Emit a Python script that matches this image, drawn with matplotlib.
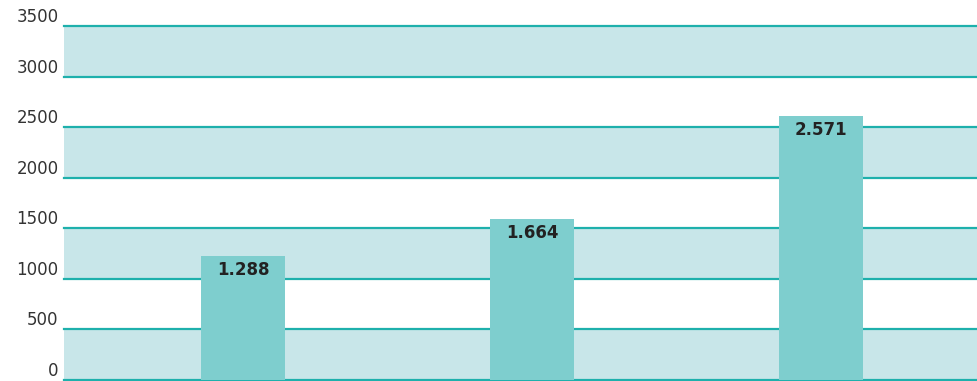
import matplotlib.pyplot as plt
import numpy as np

categories = ['A', 'B', 'C']
bar_values = [1225, 1590, 2610]          # heights as drawn in the picture
bar_labels = ['1.288', '1.664', '2.571']
yticks = [0, 500, 1000, 1500, 2000, 2500, 3000, 3500]

bar_color = '#7ECECE'
band_color = '#C8E6E9'
line_color = '#1EB0AC'

fig = plt.figure(figsize=(9.77, 3.81), dpi=100)
ax = fig.add_axes([64 / 977, 1 / 381, 913 / 977, 354 / 381])

# alternating bands
for lo in yticks[:-1:2]:
    ax.axhspan(lo, lo + 500, color=band_color, zorder=0, lw=0)
for t in yticks:
    ax.axhline(t, color=line_color, lw=1.6, zorder=1, clip_on=False)

x = np.arange(len(categories))
bars = ax.bar(x, bar_values, width=0.29, color=bar_color, zorder=2)
for b, lbl in zip(bars, bar_labels):
    ax.text(b.get_x() + b.get_width() / 2, b.get_height() - 50, lbl,
            ha='center', va='top', fontsize=12, fontweight='bold',
            color='#222222', zorder=3)

ax.set_xlim(-0.62, 2.54)
ax.set_ylim(0, 3500)
ax.set_xticks([])
ax.set_yticks(yticks)
ax.set_yticklabels([str(t) for t in yticks], fontsize=12, color='#333333')
for lbl in ax.get_yticklabels():
    lbl.set_va('bottom')
ax.tick_params(axis='y', length=0, pad=4)
for s in ax.spines.values():
    s.set_visible(False)

plt.savefig('out.png', dpi=100)
